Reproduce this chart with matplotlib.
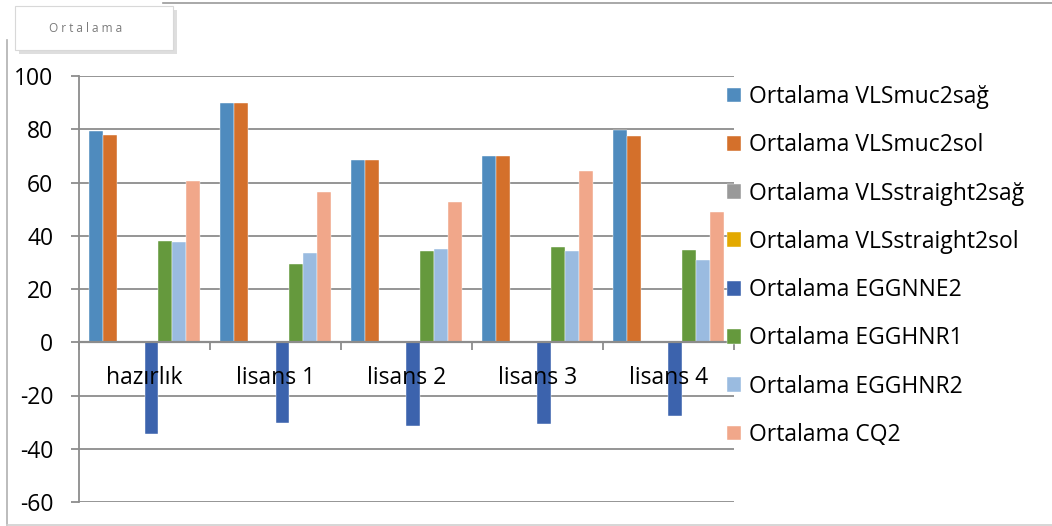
import matplotlib
matplotlib.use("Agg")
import matplotlib.pyplot as plt
from matplotlib.patches import FancyBboxPatch
from matplotlib.lines import Line2D
import numpy as np

plt.rcParams['font.family'] = ['Open Sans', 'DejaVu Sans']

categories = ["hazırlık", "lisans 1", "lisans 2", "lisans 3", "lisans 4"]

series_names = [
    "Ortalama VLSmuc2sağ",
    "Ortalama VLSmuc2sol",
    "Ortalama VLSstraight2sağ",
    "Ortalama VLSstraight2sol",
    "Ortalama EGGNNE2",
    "Ortalama EGGHNR1",
    "Ortalama EGGHNR2",
    "Ortalama CQ2",
]

vls_muc2_sag = [79.2, 89.8, 68.3, 69.8, 79.8]
vls_muc2_sol = [78.0, 89.8, 68.3, 69.8, 77.3]
vls_straight2_sag = [0, 0, 0, 0, 0]
vls_straight2_sol = [0, 0, 0, 0, 0]
egg_nne2 = [-34.4, -30.5, -31.5, -30.8, -27.8]
egg_hnr1 = [38.1, 29.5, 34.3, 35.6, 34.8]
egg_hnr2 = [37.5, 33.7, 34.9, 34.3, 31.0]
cq2 = [60.4, 56.3, 52.5, 64.2, 48.9]

series_values = [vls_muc2_sag, vls_muc2_sol, vls_straight2_sag, vls_straight2_sol,
                 egg_nne2, egg_hnr1, egg_hnr2, cq2]

colors = ["#4F8BBE", "#D4702B", "#999999", "#E3A900",
          "#3C63AD", "#65993D", "#9ABBE0", "#F1A78A"]

y_ticks = [-60, -40, -20, 0, 20, 40, 60, 80, 100]

W, H = 1052, 526
FS = 16.5
fig = plt.figure(figsize=(W / 100, H / 100), dpi=100)
fig.patch.set_facecolor("white")

ax = fig.add_axes([79 / W, 1 - 502 / H, (734 - 79) / W, (502 - 76) / H])
ax.set_facecolor("white")

grid_color = "#8C8C8C"
n = len(series_values)
group_w = 0.84
bar_w = group_w / n
x = np.arange(len(categories))

handles = []
for i, (vals, c, name) in enumerate(zip(series_values, colors, series_names)):
    offs = -group_w / 2 + bar_w * (i + 0.5)
    b = ax.bar(x + offs, vals, width=bar_w, color=c, label=name, zorder=3,
               edgecolor="white", linewidth=0.3)
    handles.append(b)

ax.set_xlim(-0.5, len(categories) - 0.5)
ax.set_ylim(-60, 100)
ax.set_yticks(y_ticks)
ax.set_yticklabels([str(v) for v in y_ticks])
ax.grid(axis="y", color=grid_color, linewidth=1.3)

# gridlines behind the bars, category names in front of them
ax.yaxis.set_zorder(1)
ax.xaxis.set_zorder(5)

for side in ["top", "right"]:
    ax.spines[side].set_visible(False)
ax.spines["left"].set_color(grid_color)
ax.spines["left"].set_linewidth(1.3)
ax.spines["left"].set_zorder(1)
ax.spines["bottom"].set_position(("data", 0))
ax.spines["bottom"].set_color(grid_color)
ax.spines["bottom"].set_linewidth(1.6)
ax.spines["bottom"].set_zorder(4)

ax.tick_params(axis="y", length=6, width=1.3, color=grid_color, pad=12.5,
               labelsize=FS, labelcolor="black")

# category boundaries as major ticks on the zero line, names as minor tick labels
ax.set_xticks(np.arange(len(categories) + 1) - 0.5)
ax.set_xticklabels([""] * (len(categories) + 1))
ax.set_xticks(x, minor=True)
ax.set_xticklabels(categories, minor=True)
ax.tick_params(axis="x", which="major", length=6, width=1.3, color=grid_color,
               direction="out")
ax.tick_params(axis="x", which="minor", length=0, pad=17, labelsize=FS,
               labelcolor="black")

leg = fig.legend(handles=handles, loc="upper left",
                 bbox_to_anchor=(727 / W, 1 - 85 / H),
                 frameon=False, fontsize=FS, handlelength=0.62, handleheight=0.62,
                 handletextpad=0.33, labelspacing=1.06, borderpad=0,
                 borderaxespad=0)

# outer chart frame
frame_color = "#9A9A9A"
fig.add_artist(Line2D([163 / W, 1.0], [1 - 3 / H, 1 - 3 / H],
                      transform=fig.transFigure, color=frame_color, lw=1.2))
fig.add_artist(Line2D([7 / W, 7 / W], [1 - 40 / H, 0.0],
                      transform=fig.transFigure, color="#B0B0B0", lw=1.2))
fig.add_artist(Line2D([7 / W, 1.0], [1 - 525 / H, 1 - 525 / H],
                      transform=fig.transFigure, color="#D0D0D0", lw=1.2))

# field button in the upper left corner
shadow = FancyBboxPatch((19 / W, 1 - 54 / H), 158 / W, 44 / H,
                        boxstyle="square,pad=0", transform=fig.transFigure,
                        facecolor="#C8C8C8", edgecolor="none", alpha=0.6)
fig.add_artist(shadow)
button = FancyBboxPatch((15 / W, 1 - 50 / H), 158 / W, 44 / H,
                        boxstyle="square,pad=0", transform=fig.transFigure,
                        facecolor="white", edgecolor="#D8D8D8", lw=0.8)
fig.add_artist(button)
fig.text(86 / W, 1 - 28 / H, "O r t a l a m a", ha="center", va="center",
         fontsize=8.5, color="#7A7A7A")

fig.savefig("out.png", dpi=100)
